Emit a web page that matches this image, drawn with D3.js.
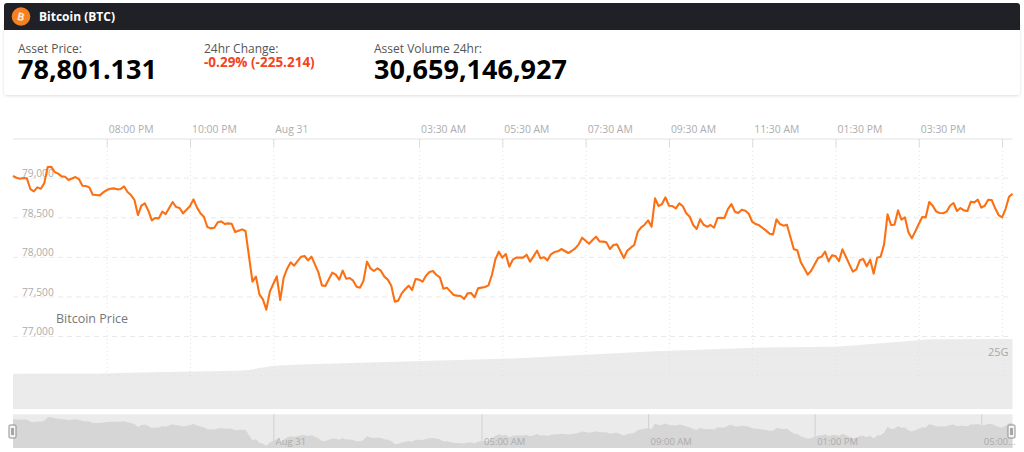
<!DOCTYPE html>
<meta charset="utf-8">
<style>
  html, body { margin: 0; padding: 0; background: #fff; overflow: hidden; }
  text { font-family: "Open Sans", sans-serif; }
</style>
<script src="https://d3js.org/d3.v7.min.js"></script>
<div id="chart_data"></div>
<script>
// prices, one every 5 minutes from 05:45 PM on Aug 30
var prices = [
  79021,79000,78987,78996,78992,78857,78827,78878,78861,78928,79135,79139,79072,79051,79017,79013,78971,78990,79008,78983,
  78899,78895,78878,78785,78781,78777,78815,78844,78861,78865,78853,78857,78891,78819,78781,78718,78528,78646,78676,78583,
  78461,78491,78486,78571,78541,78617,78693,78630,78617,78550,78596,78642,78726,78625,78550,78507,78377,78360,78368,78436,
  78448,78415,78423,78419,78314,78331,78347,78326,78006,77686,77750,77527,77463,77333,77560,77657,77754,77455,77737,77851,
  77931,77889,77947,78002,78011,77956,78002,77905,77804,77640,77632,77716,77800,77775,77712,77825,77724,77733,77699,77623,
  77611,77699,77939,77855,77821,77855,77825,77750,77712,77636,77434,77447,77539,77590,77636,77581,77720,77712,77686,77762,
  77809,77821,77771,77741,77598,77611,77564,77518,77510,77505,77468,77539,77543,77489,77602,77611,77619,77640,77771,77969,
  78065,77990,78036,77876,77964,77990,77990,77990,78027,77939,78006,78078,77981,77994,77956,78032,78061,78070,78099,78074,
  78049,78074,78107,78158,78242,78204,78166,78213,78255,78196,78192,78183,78099,78150,78158,78074,77985,78078,78116,78150,
  78314,78373,78406,78461,78381,78739,78642,78667,78752,78646,78642,78613,78676,78640,78550,78507,78402,78352,78474,78406,
  78381,78402,78368,78491,78495,78491,78604,78667,78571,78554,78596,78583,78545,78444,78415,78398,78364,78331,78293,78284,
  78474,78415,78394,78406,78251,78095,78082,77931,77855,77775,77825,77905,77985,78002,78065,77943,78019,78011,77947,78095,
  78002,77905,77813,77842,77956,77973,77880,77964,77788,77990,78002,78158,78537,78402,78406,78587,78470,78499,78310,78234,
  78322,78415,78503,78499,78693,78646,78575,78554,78550,78571,78646,78680,78579,78617,78587,78579,78697,78688,78722,78621,
  78646,78722,78718,78613,78528,78499,78604,78760,78798
];
var startTime = new Date(2024, 7, 30, 17, 45);
var times = prices.map(function(d, i) { return d3.timeMinute.offset(startTime, i * 5); });

// 24h volume in billions, read at these minutes after the start
var volumeMinutes = [0, 65, 125, 198, 325, 340, 375, 415, 525, 720, 825, 925, 1070, 1185, 1260, 1320, 1440];
var volumeValues = [15.5, 15.6, 15.6, 16.1, 16.8, 17.1, 19.0, 19.5, 20.5, 22.2, 23.8, 25.3, 26.9, 27.3, 29.1, 30.6, 30.7];

var priceTicks = [77000, 77500, 78000, 78500, 79000];
var volumeGrid = [5, 10, 15, 20, 25];
var volumeTicks = [25];

var timeTicks = [
  [2024,7,30,20,0],[2024,7,30,22,0],[2024,7,31,0,0],[2024,7,31,3,30],[2024,7,31,5,30],[2024,7,31,7,30],
  [2024,7,31,9,30],[2024,7,31,11,30],[2024,7,31,13,30],[2024,7,31,15,30],[2024,7,31,17,30]
];
var timeLabels = ["08:00 PM","10:00 PM","Aug 31","03:30 AM","05:30 AM","07:30 AM","09:30 AM","11:30 AM","01:30 PM","03:30 PM",""];

var navTicks = [[2024,7,31,0,0],[2024,7,31,5,0],[2024,7,31,9,0],[2024,7,31,13,0],[2024,7,31,17,0]];
var navLabels = ["Aug 31","05:00 AM","09:00 AM","01:00 PM","05:00..."];

function toDate(a) { return new Date(a[0], a[1], a[2], a[3], a[4]); }

var width = 1024, height = 452;
var left = 13, right = 1012.5;
var orange = "#fc7014";

var svg = d3.select("#chart_data").append("svg")
  .attr("width", width)
  .attr("height", height)
  .style("display", "block");

var defs = svg.append("defs");
defs.append("filter").attr("id", "cardShadow")
  .attr("x", "-2%").attr("y", "-10%").attr("width", "104%").attr("height", "125%")
  .append("feDropShadow")
    .attr("dx", 0).attr("dy", 1).attr("stdDeviation", 1.6)
    .attr("flood-color", "#000").attr("flood-opacity", 0.13);

// header card
svg.append("rect")
  .attr("x", 4).attr("y", 20).attr("width", 1016).attr("height", 75).attr("rx", 4)
  .attr("fill", "#fff").attr("filter", "url(#cardShadow)");
svg.append("path")
  .attr("d", "M4,30V6a3,3 0 0 1 3,-3H1017a3,3 0 0 1 3,3V30Z")
  .attr("fill", "#1f2127");
svg.append("circle").attr("cx", 21).attr("cy", 16.5).attr("r", 9.3).attr("fill", "#f58024");
svg.append("text")
  .attr("x", 21).attr("y", 20.5).attr("text-anchor", "middle")
  .attr("transform", "rotate(12 21 16.5)")
  .attr("fill", "#fbe3cf").style("font-size", "11px").style("font-weight", 700)
  .text("B");
svg.append("text").attr("x", 39).attr("y", 21).attr("fill", "#fff")
  .style("font-size", "12px").style("font-weight", 700).text("Bitcoin (BTC)");

function stat(x, label, value) {
  svg.append("text").attr("x", x).attr("y", 53).attr("fill", "#555")
    .style("font-size", "12px").text(label);
  svg.append("text").attr("x", x).attr("y", 79).attr("fill", "#000")
    .style("font-size", "27px").style("font-weight", 700).text(value);
}
stat(18, "Asset Price:", "78,801.131");
stat(374, "Asset Volume 24hr:", "30,659,146,927");
svg.append("text").attr("x", 204).attr("y", 53).attr("fill", "#555")
  .style("font-size", "12px").text("24hr Change:");
svg.append("text").attr("x", 204).attr("y", 67).attr("fill", "#f4431f")
  .style("font-size", "13.5px").style("font-weight", 700).text("-0.29% (-225.214)");

// scales
var x = d3.scaleTime().domain([times[0], times[times.length - 1]]).range([left, right]);
var y = d3.scaleLinear().domain([77000, 79000]).range([336, 177.7]);
var yVol = d3.scaleLinear().domain([0, 25]).range([409, 352]);
var yNav = d3.scaleLinear().domain([77190, 79330]).range([448, 414.3]);

// volume area
var volume = volumeMinutes.map(function(m, i) {
  return { date: d3.timeMinute.offset(startTime, m), value: volumeValues[i] };
});
var volumeArea = d3.area()
  .x(function(d) { return x(d.date); })
  .y0(yVol(0))
  .y1(function(d) { return yVol(d.value); });
svg.append("path")
  .datum(volume)
  .attr("fill", "#ebebeb")
  .attr("d", volumeArea);
defs.append("clipPath").attr("id", "volumeClip")
  .append("path").datum(volume).attr("d", volumeArea);

// faint dotted rows, only seen inside the volume area
var volGrid = svg.append("g")
  .attr("transform", "translate(" + left + ",0)")
  .attr("clip-path", "url(#volumeClip)")
  .call(d3.axisRight(yVol).tickValues(volumeGrid).tickSize(right - left).tickFormat(""));
volGrid.select(".domain").remove();
volGrid.selectAll("line").attr("stroke", "#dcdcdc").attr("stroke-dasharray", "1 7");

// time axis on top, its long ticks are the vertical grid
var xGrid = svg.append("g")
  .attr("transform", "translate(0,139)")
  .call(d3.axisBottom(x).tickValues(timeTicks.map(toDate)).tickSize(244).tickFormat(""));
xGrid.select(".domain").remove();
xGrid.selectAll("line").attr("stroke", "#e4e4e4").attr("stroke-dasharray", "1 3");

var xAxis = svg.append("g")
  .attr("transform", "translate(0,139)")
  .call(d3.axisBottom(x).tickValues(timeTicks.map(toDate)).tickSize(8)
    .tickFormat(""));
xAxis.select(".domain").attr("stroke", "#e2e2e2").attr("d", "M" + left + ",0H" + right);
xAxis.selectAll("line").attr("stroke", "#dcdcdc");

var xLabels = svg.append("g")
  .attr("transform", "translate(0,133)")
  .call(d3.axisTop(x).tickValues(timeTicks.map(toDate)).tickSize(0)
    .tickFormat(function(d, i) { return timeLabels[i]; }));
xLabels.select(".domain").remove();
xLabels.selectAll("text")
  .attr("x", 1.5).attr("y", 0).attr("text-anchor", "start")
  .attr("fill", "#adadad")
  .style("font-size", "10.4px").style("font-family", '"Open Sans", sans-serif');

// price axis, gridlines run the whole width
var yAxis = svg.append("g")
  .attr("transform", "translate(" + left + ",0)")
  .call(d3.axisRight(y).tickValues(priceTicks).tickSize(right - left).tickFormat(d3.format(",")));
yAxis.select(".domain").remove();
yAxis.selectAll("line").attr("stroke", "#e9e9e9").attr("stroke-dasharray", "5 4");
yAxis.selectAll("text")
  .attr("x", 9).attr("dy", 0).attr("y", -1.2).attr("text-anchor", "start")
  .attr("fill", "#adadad")
  .style("font-size", "10.2px").style("font-family", '"Open Sans", sans-serif');

// volume axis
var volAxis = svg.append("g")
  .attr("transform", "translate(" + right + ",0)")
  .call(d3.axisLeft(yVol).tickValues(volumeTicks).tickSize(0).tickFormat(function(d) { return d + "G"; }));
volAxis.select(".domain").remove();
volAxis.selectAll("text")
  .attr("x", -4)
  .attr("fill", "#a8a8a8")
  .style("font-size", "11px").style("font-family", '"Open Sans", sans-serif');

// price line
svg.append("path")
  .datum(prices)
  .attr("fill", "none")
  .attr("stroke", orange)
  .attr("stroke-width", 2.1)
  .attr("stroke-linejoin", "round")
  .attr("d", d3.line()
    .x(function(d, i) { return x(times[i]); })
    .y(function(d) { return y(d); })
  );

svg.append("text").attr("x", 56).attr("y", 323).attr("fill", "#777")
  .style("font-size", "12.5px").text("Bitcoin Price");

// navigator strip
svg.append("rect")
  .attr("x", left).attr("y", 414.3).attr("width", right - left).attr("height", 33.7)
  .attr("fill", "#ebebeb");
var navGrid = svg.append("g")
  .attr("transform", "translate(0,414.3)")
  .call(d3.axisBottom(x).tickValues(navTicks.map(toDate)).tickSize(33.7).tickFormat(""));
navGrid.select(".domain").remove();
navGrid.selectAll("line").attr("stroke", "#d2d2d2");
svg.append("path")
  .datum(prices)
  .attr("fill", "#d6d6d6")
  .attr("d", d3.area()
    .x(function(d, i) { return x(times[i]); })
    .y0(yNav(77190))
    .y1(function(d) { return yNav(d); })
  );
var navAxis = svg.append("g")
  .attr("transform", "translate(0,414.3)")
  .call(d3.axisBottom(x).tickValues(navTicks.map(toDate)).tickSize(0)
    .tickFormat(function(d, i) { return navLabels[i]; }));
navAxis.select(".domain").remove();
navAxis.selectAll("text")
  .attr("x", 2).attr("y", 31).attr("dy", 0).attr("text-anchor", "start")
  .attr("fill", "#ababab")
  .style("font-size", "9.5px").style("font-family", '"Open Sans", sans-serif');

// range handles
[12.5, 1011.5].forEach(function(cx) {
  svg.append("rect").attr("x", cx - 3.5).attr("y", 425).attr("width", 7).attr("height", 13).attr("rx", 1)
    .attr("fill", "#f4f4f4").attr("stroke", "#8f8f8f");
  svg.append("rect").attr("x", cx - 1.5).attr("y", 428).attr("width", 3).attr("height", 7)
    .attr("fill", "#a5a5a5");
});
</script>
